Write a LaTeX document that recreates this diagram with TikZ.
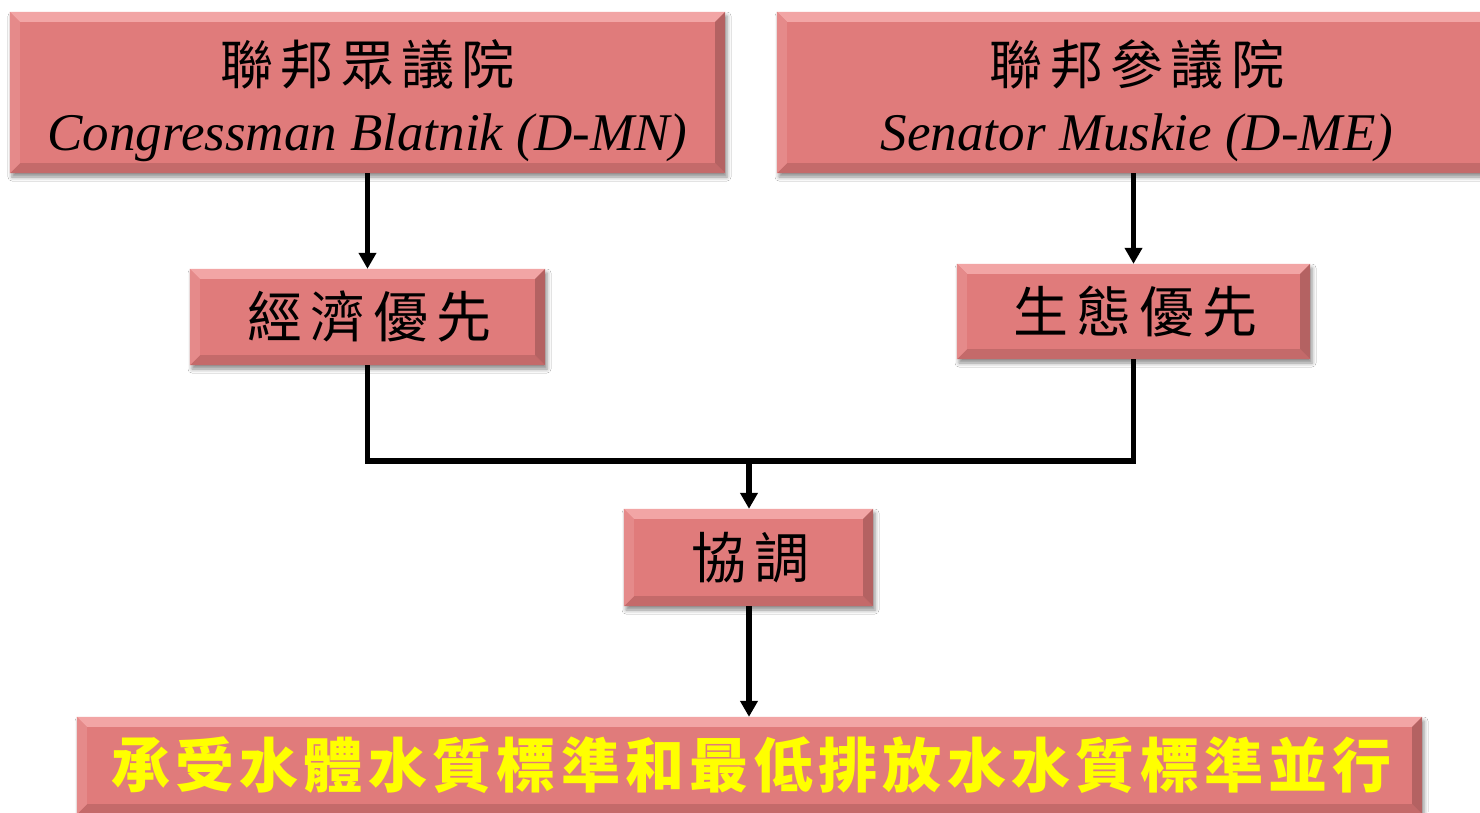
\documentclass[tikz,border=0pt]{standalone}
\usepackage{fontspec}
\setmainfont{Liberation Serif}
\newfontfamily\cjk[LetterSpace=14]{Noto Sans CJK TC}
\newfontfamily\cjkb[LetterSpace=9]{Noto Sans CJK TC}
\usetikzlibrary{arrows.meta,shadows.blur}
\definecolor{boxfill}{HTML}{E07B7B}
\definecolor{bevtop}{HTML}{F2A5A5}
\definecolor{bevbot}{HTML}{C46A6A}
\definecolor{bevright}{HTML}{B46262}
\definecolor{bevleft}{HTML}{E58A8A}
\definecolor{txtyellow}{HTML}{FFFF00}
\tikzset{
  boxnode/.style={fill=boxfill, draw=none, inner sep=0pt, align=center,
    blur shadow={shadow xshift=2pt, shadow yshift=-4pt, shadow blur radius=4pt, shadow opacity=45}},
  conn/.style={line width=5.5pt, draw=black},
  arr/.style={-{Triangle[length=16pt,width=17pt]}},
}
\newcommand\bevel[1]{%
  \fill[bevtop] (#1.north west) -- (#1.north east) -- ([xshift=-10pt,yshift=-10pt]#1.north east) -- ([xshift=10pt,yshift=-10pt]#1.north west) -- cycle;
  \fill[bevbot] (#1.south west) -- (#1.south east) -- ([xshift=-10pt,yshift=10pt]#1.south east) -- ([xshift=10pt,yshift=10pt]#1.south west) -- cycle;
  \fill[bevleft] (#1.north west) -- ([xshift=10pt,yshift=-10pt]#1.north west) -- ([xshift=10pt,yshift=10pt]#1.south west) -- (#1.south west) -- cycle;
  \fill[bevright] (#1.north east) -- ([xshift=-10pt,yshift=-10pt]#1.north east) -- ([xshift=-10pt,yshift=10pt]#1.south east) -- (#1.south east) -- cycle;
}
\begin{document}
\begin{tikzpicture}[x=1pt,y=-1pt]
\useasboundingbox (0,0) rectangle (1480,812);
\fill[white] (0,0) rectangle (1480,812);
% boxes
\node[boxnode, minimum width=715pt, minimum height=161pt] (b1) at (367.5,92.5) {};
\node[boxnode, minimum width=720pt, minimum height=161pt] (b2) at (1137,92.5) {};
\node[boxnode, minimum width=355pt, minimum height=96pt] (b3) at (367.5,317) {};
\node[boxnode, minimum width=353pt, minimum height=95pt] (b4) at (1133.5,311.5) {};
\node[boxnode, minimum width=249pt, minimum height=97pt] (b5) at (748.5,557.5) {};
\node[boxnode, minimum width=1345pt, minimum height=97pt] (b6) at (749.5,765.5) {};
\bevel{b1}\bevel{b2}\bevel{b3}\bevel{b4}\bevel{b5}\bevel{b6}
% texts
\node[align=center, inner sep=0pt, font=\fontsize{53}{66}\selectfont] (t1) at ([yshift=-8pt]b1.center) {{\cjk 聯邦眾議院}\\\textit{Congressman Blatnik (D-MN)}};
\node[align=center, inner sep=0pt, font=\fontsize{53}{66}\selectfont] (t2) at ([yshift=-8pt]b2.center) {{\cjk 聯邦參議院}\\\textit{Senator Muskie (D-ME)}};
\node[inner sep=0pt, font=\fontsize{55}{62}\selectfont\cjk] (t3) at ([xshift=2pt]b3.center) {經濟優先};
\node[inner sep=0pt, font=\fontsize{55}{62}\selectfont\cjk] (t4) at ([xshift=2pt]b4.center) {生態優先};
\node[inner sep=0pt, font=\fontsize{55}{62}\selectfont\cjk] (t5) at ([xshift=2pt]b5.center) {協調};
\node[inner sep=0pt, text=txtyellow, font=\fontsize{59}{62}\selectfont\cjkb\bfseries] (t6) at ([xshift=2pt]b6.center) {承受水體水質標準和最低排放水水質標準並行};
% connectors
\coordinate (j) at (749,461);
\draw[conn,arr] (b1.south -| b3.north) -- (b3.north);
\draw[conn,arr] (b2.south -| b4.north) -- (b4.north);
\draw[conn] (b3.south) -- (b3.south |- j) -- (b4.south |- j) -- (b4.south);
\draw[conn,arr] (j) -- (j |- b5.north);
\draw[conn,arr] (b5.south -| j) -- (j |- b6.north);
\end{tikzpicture}
\end{document}
